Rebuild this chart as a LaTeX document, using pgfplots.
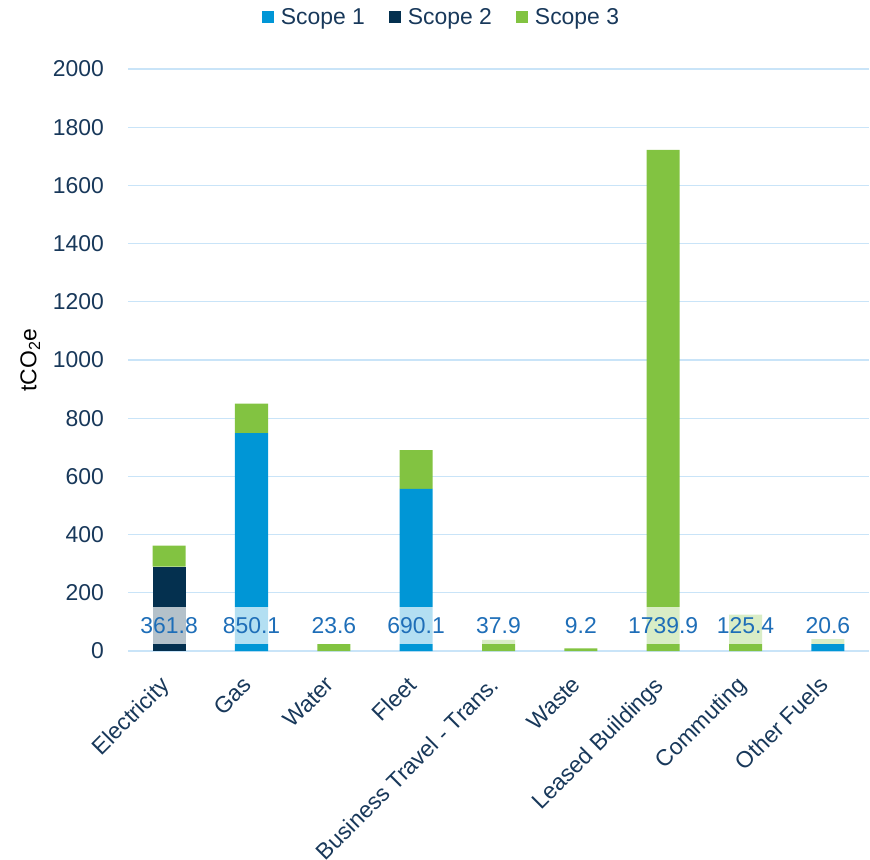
\documentclass[border=0pt]{standalone}
\usepackage{fontspec}
\setmainfont{Liberation Sans}
\usepackage{pgfplots}
\pgfplotsset{compat=1.18}
\usepackage{pgfplotstable}
\definecolor{sone}{HTML}{0096D6}
\definecolor{stwo}{HTML}{04304F}
\definecolor{sthree}{HTML}{82C341}
\definecolor{gridc}{HTML}{C9E4F8}
\definecolor{txt}{HTML}{18385A}
\definecolor{lbl}{HTML}{1E6EB8}
\pgfplotstableread{
x s1 s2 s3 ly lab
0 0 290 72 86 361.8
1 749 0 101 86 850.1
2 0 0 23.6 86 23.6
3 557 0 133 86 690.1
4 0 0 37.9 86 37.9
5 0 0 9.2 86 9.2
6 0 0 1722 86 1739.9
7 0 0 125.4 86 125.4
8 24 0 17 86 20.6
}\data
\newcommand{\bigf}{\fontsize{23}{27}\selectfont}
\pgfplotsset{
  common/.style={
    scale only axis, width=741bp, height=582bp,
    xmin=-0.5, xmax=8.5, ymin=0, ymax=2000,
  }
}
\begin{document}
\begin{tikzpicture}
\path[use as bounding box] (-128bp,-209bp) rectangle (742bp,651bp);
\begin{axis}[
  common,
  ybar stacked, bar width=33bp,
  ytick={0,200,...,2000},
  xtick={0,...,8},
  xticklabels={Electricity, Gas, Water, Fleet, Business Travel - Trans., Waste, Leased Buildings, Commuting, Other Fuels},
  axis line style={draw=none},
  major tick length=0,
  ymajorgrids, grid style={gridc, line width=1.3bp},
  /pgf/number format/assume math mode=true,
  /pgf/number format/set thousands separator={},
  yticklabel style={font=\bigf, text=txt, anchor=east, inner sep=0pt, xshift=-24bp},
  xticklabel style={font=\bigf, text=txt, xshift=-10bp, yshift=-21bp, rotate=45, anchor=north east, inner sep=2bp},
  every axis y label/.style={at={(axis description cs:-0.132,0.5)}, rotate=90, anchor=center, font=\bigf, text=black},
  ylabel={tCO\textsubscript{2}e},
  legend style={draw=none, fill=none, legend columns=-1, at={(0.423,1.089)}, anchor=center,
    font=\bigf, text=txt, /tikz/every even column/.append style={column sep=22bp},
    legend cell align=left},
  legend image code/.code={\fill[#1] (0bp,-6bp) rectangle (12bp,6bp); \path (17bp,0bp);},
]
\addplot[fill=sone, draw=none] table[x=x, y=s1] {\data};
\addlegendentry{Scope 1}
\addplot[fill=stwo, draw=none] table[x=x, y=s2] {\data};
\addlegendentry{Scope 2}
\addplot[fill=sthree, draw=none] table[x=x, y=s3] {\data};
\addlegendentry{Scope 3}
\end{axis}
\begin{axis}[
  common, hide axis,
]
\addplot[draw=none, mark=none, nodes near coords, point meta=explicit symbolic,
  nodes near coords style={anchor=center, font=\bigf, text=lbl, fill=white, fill opacity=0.7, text opacity=1,
    inner xsep=1bp, inner ysep=0pt, minimum height=37bp}]
  table[x=x, y=ly, meta=lab] {\data};
\end{axis}
\end{tikzpicture}
\end{document}
